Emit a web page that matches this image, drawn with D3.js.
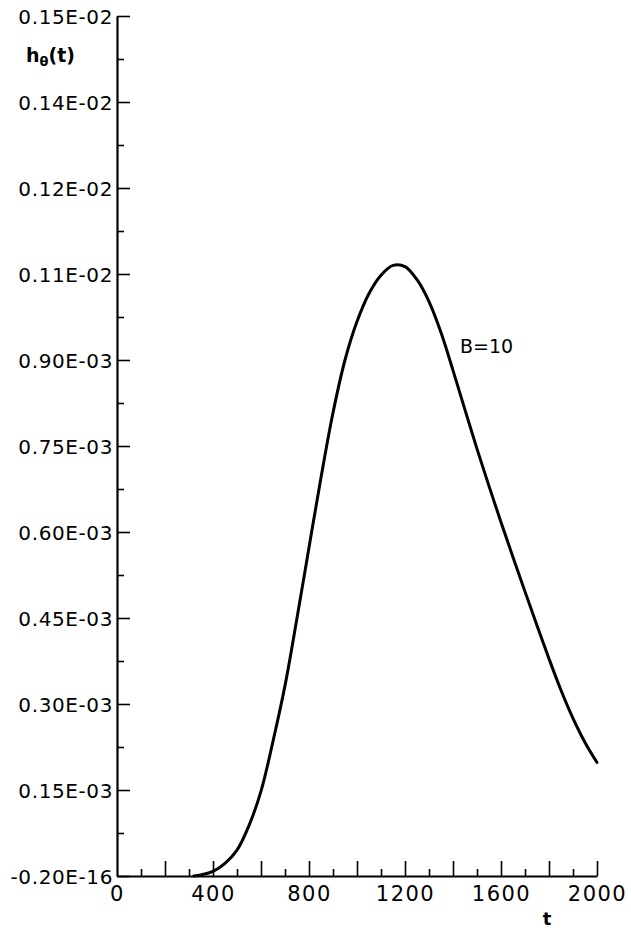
<!DOCTYPE html>
<html>
<head>
<meta charset="utf-8">
<script src="https://cdn.jsdelivr.net/npm/d3@7"></script>
<style>
  html, body { margin: 0; padding: 0; background: #fff; }
  svg { display: block; }
  text { font-family: "DejaVu Sans", sans-serif; fill: #000; }
</style>
</head>
<body>
<svg id="chart" width="631" height="928"></svg>
<script>
// ---- data ----
const tValues = [320, 350, 400, 450, 500, 550, 600, 650, 700, 750, 800, 850, 900, 950, 1000,
  1050, 1100, 1150, 1200, 1250, 1300, 1350, 1400, 1450, 1500, 1550, 1600, 1650, 1700,
  1750, 1800, 1850, 1900, 1950, 2000];
const hValues = [0.000e-3, 0.002e-3, 0.008e-3, 0.022e-3, 0.045e-3, 0.088e-3, 0.148e-3, 0.235e-3,
  0.332e-3, 0.450e-3, 0.573e-3, 0.695e-3, 0.808e-3, 0.900e-3, 0.967e-3, 1.016e-3, 1.048e-3,
  1.065e-3, 1.063e-3, 1.040e-3, 1.002e-3, 0.948e-3, 0.882e-3, 0.813e-3, 0.745e-3, 0.680e-3,
  0.617e-3, 0.556e-3, 0.496e-3, 0.437e-3, 0.379e-3, 0.324e-3, 0.275e-3, 0.233e-3, 0.198e-3];

const yTickValues = [0, 0.15e-3, 0.30e-3, 0.45e-3, 0.60e-3, 0.75e-3, 0.90e-3, 1.05e-3, 1.20e-3, 1.35e-3, 1.50e-3];
const yTickLabels = ["-0.20E-16", "0.15E-03", "0.30E-03", "0.45E-03", "0.60E-03", "0.75E-03",
  "0.90E-03", "0.11E-02", "0.12E-02", "0.14E-02", "0.15E-02"];
const yMinorValues = [0.075e-3, 0.225e-3, 0.375e-3, 0.525e-3, 0.675e-3, 0.825e-3, 0.975e-3, 1.125e-3, 1.275e-3, 1.425e-3];

const xLabelValues = [0, 400, 800, 1200, 1600, 2000];
const xMajorValues = [200, 400, 600, 800, 1000, 1200, 1400, 1600, 1800, 2000];
const xMinorValues = [100, 300, 500, 700, 900, 1100, 1300, 1500, 1700, 1900];

const curveLabel = "B=10";
const xTitle = "t";

// ---- drawing ----
const svg = d3.select("#chart");
const x = d3.scaleLinear().domain([0, 2000]).range([117, 597]);
const y = d3.scaleLinear().domain([0, 1.5e-3]).range([876, 16]);

// Y axis: line + major ticks pointing right
const yAxisTicks = svg.append("g").attr("transform", `translate(${x(0)},0)`)
  .call(d3.axisRight(y).tickValues(yTickValues).tickSizeInner(13).tickSizeOuter(0).tickFormat(""));
yAxisTicks.select(".domain").attr("stroke-width", 2.2);
yAxisTicks.selectAll(".tick line").attr("stroke-width", 1.6);

svg.append("g").attr("transform", `translate(${x(0)},0)`)
  .call(d3.axisRight(y).tickValues(yMinorValues).tickSizeInner(7).tickSizeOuter(0).tickFormat(""))
  .call(g => g.select(".domain").remove())
  .selectAll(".tick line").attr("stroke-width", 1.6);

// Y labels
const yLab = svg.append("g").attr("transform", `translate(${x(0)},0)`)
  .call(d3.axisLeft(y).tickValues(yTickValues).tickSize(0).tickPadding(4)
    .tickFormat((d, i) => yTickLabels[i]));
yLab.select(".domain").remove();
yLab.selectAll("text").attr("font-size", 20).attr("font-family", "DejaVu Sans")
  .attr("letter-spacing", "0.6px").attr("dy", "0.36em");

// X axis: line + ticks pointing up
const xAxisTicks = svg.append("g").attr("transform", `translate(0,${y(0)})`)
  .call(d3.axisTop(x).tickValues(xMajorValues).tickSizeInner(15).tickSizeOuter(0).tickFormat(""));
xAxisTicks.select(".domain").attr("stroke-width", 2.2);
xAxisTicks.selectAll(".tick line").attr("stroke-width", 1.6);

svg.append("g").attr("transform", `translate(0,${y(0)})`)
  .call(d3.axisTop(x).tickValues(xMinorValues).tickSizeInner(7).tickSizeOuter(0).tickFormat(""))
  .call(g => g.select(".domain").remove())
  .selectAll(".tick line").attr("stroke-width", 1.6);

const xLab = svg.append("g").attr("transform", `translate(0,${y(0)})`)
  .call(d3.axisBottom(x).tickValues(xLabelValues).tickSize(0).tickPadding(10).tickFormat(d3.format("d")));
xLab.select(".domain").remove();
xLab.selectAll("text").attr("font-size", 21).attr("font-family", "DejaVu Sans")
  .attr("letter-spacing", "1.5px").attr("dy", "0.71em");

// Axis titles
const yt = svg.append("text").attr("x", 26).attr("y", 62).attr("font-size", 19).attr("font-weight", "bold");
yt.append("tspan").text("h");
yt.append("tspan").attr("font-size", 13).attr("dy", 4).text("θ");
yt.append("tspan").attr("dy", -4).text("(t)");

svg.append("text").attr("x", 547).attr("y", 925).attr("text-anchor", "middle")
  .attr("font-size", 18).attr("font-weight", "bold").text(xTitle);

// Curve
const pts = tValues.map((t, i) => [t, hValues[i]]);
const line = d3.line().x(d => x(d[0])).y(d => y(d[1])).curve(d3.curveCatmullRom.alpha(0.5));
svg.append("path").datum(pts).attr("d", line)
  .attr("fill", "none").attr("stroke", "#000").attr("stroke-width", 3).attr("stroke-linecap", "round");

svg.append("text").attr("x", 460).attr("y", 353).attr("font-size", 19).text(curveLabel);
</script>
</body>
</html>
